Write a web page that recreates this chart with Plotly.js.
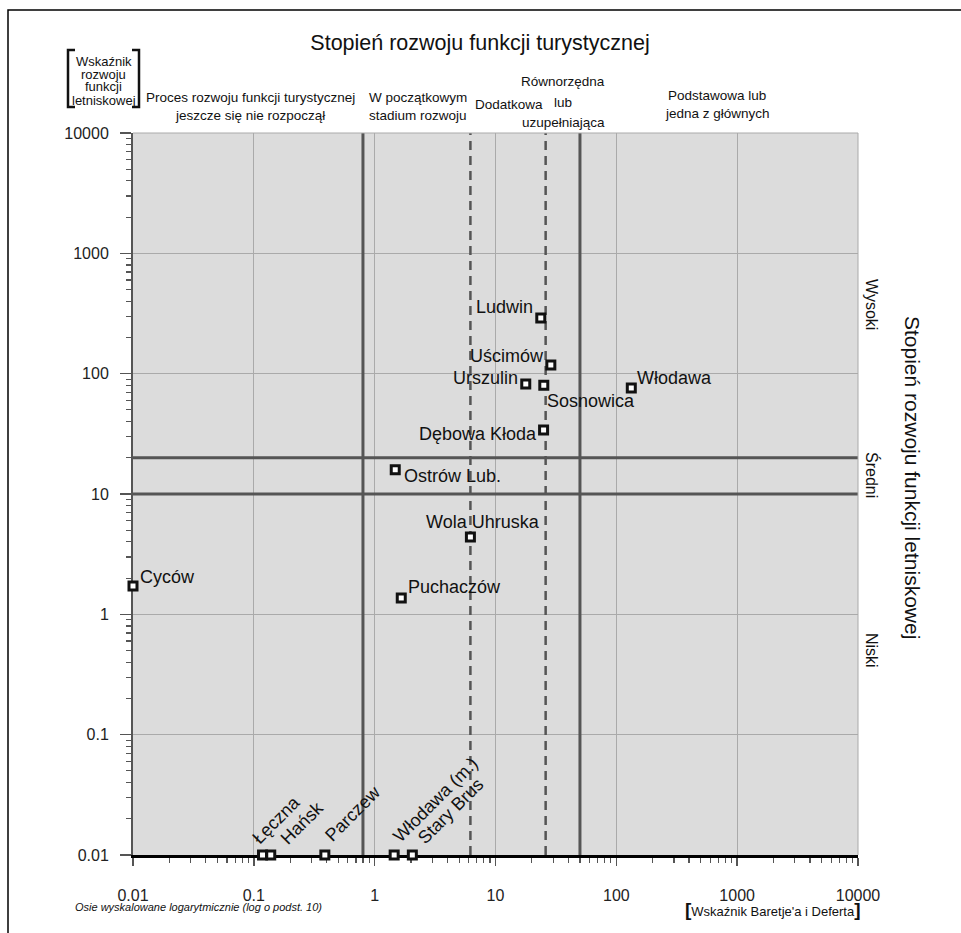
<!DOCTYPE html>
<html><head><meta charset="utf-8">
<script src="https://cdn.plot.ly/plotly-3.0.1.min.js"></script>
<style>body{margin:0;background:#fff}</style>
</head><body><div id="chart" style="width:961px;height:933px"></div>
<script>
// ---- data ----
const names = ["Ludwin","Uścimów","Urszulin","Sosnowica","Włodawa","Dębowa Kłoda","Ostrów Lub.","Wola Uhruska","Puchaczów","Cyców","Łęczna","Hańsk","Parczew","Włodawa (m.)","Stary Brus"];
const baretjeDefert = [23.7, 28.7, 17.8, 25.1, 133, 25, 1.48, 6.2, 1.66, 0.01, 0.118, 0.138, 0.387, 1.45, 2.05];
const letniskowy = [290, 118, 82, 80, 76, 34, 15.9, 4.4, 1.37, 1.72, 0.01, 0.01, 0.01, 0.01, 0.01];
const touristSolid = [0.8, 50];
const touristDashed = [6.2, 26];
const letniskBounds = [10, 20];
const tickVals = [0.01, 0.1, 1, 10, 100, 1000, 10000];
const tickText = ["0.01", "0.1", "1", "10", "100", "1000", "10000"];
const touristClasses = [
  ["Proces rozwoju funkcji turystycznej", "jeszcze się nie rozpoczął"],
  ["W początkowym", "stadium rozwoju"],
  ["Dodatkowa"],
  ["Równorzędna", "lub", "uzupełniająca"],
  ["Podstawowa lub", "jedna z głównych"]
];
const letniskClasses = ["Wysoki", "Średni", "Niski"];
const yTitleLines = ["Wskaźnik", "rozwoju", "funkcji", "letniskowej"];

// ---- styles / positions ----
const REG = "Liberation Sans, Arial, sans-serif";
const L = 133, R = 858, T = 133, B = 855;
const px = x => (x - L) / (R - L);
const py = y => (B - y) / (B - T);

// label placement [xanchor, yanchor, xshift, yshift, angle]
const labelPos = [
  ["right","middle",-6,11,0], ["right","middle",-5,9,0], ["right","middle",-6,6,0],
  ["left","middle",1,-16,0], ["left","middle",4,10,0], ["right","middle",-5,-4,0],
  ["left","middle",7,-6,0], ["center","middle",13,15,0], ["left","middle",5,11,0],
  ["left","middle",5,9,0],
  ["left","bottom",-17,4,-45], ["left","bottom",3,4,-45], ["left","bottom",-6,7,-45],
  ["left","bottom",-8,6,-45], ["left","bottom",-1,4,-45]
];
const classX = [250, 418, 509, 563, 717];
const classY = [[97,115],[97,115],[105],[82,102,122],[95,113]];
const letniskPos = [[872,304],[872,475],[872,650]];
const yTitlePos = [61,74,87,100];

const traces = [];
const yEnds = [tickVals[0], tickVals[tickVals.length-1]];
touristSolid.forEach(v => traces.push({x:[v,v], y:yEnds, mode:"lines", line:{color:"#555", width:3}, hoverinfo:"skip", showlegend:false}));
touristDashed.forEach(v => traces.push({x:[v,v], y:yEnds, mode:"lines", line:{color:"#555", width:2.5, dash:"9px,6px"}, hoverinfo:"skip", showlegend:false}));
letniskBounds.forEach(v => traces.push({x:yEnds, y:[v,v], mode:"lines", line:{color:"#555", width:3}, hoverinfo:"skip", showlegend:false}));
traces.push({x:baretjeDefert, y:letniskowy, text:names, mode:"markers", cliponaxis:false,
  marker:{symbol:"square", size:8, color:"#fff", line:{color:"#111", width:3}}, showlegend:false});

const annotations = [];
names.forEach((n,i) => {
  const p = labelPos[i];
  annotations.push({x:Math.log10(baretjeDefert[i]), y:Math.log10(letniskowy[i]), xref:"x", yref:"y",
    text:n, showarrow:false, xanchor:p[0], yanchor:p[1], xshift:p[2], yshift:p[3], textangle:p[4],
    font:{family:REG, size:18, color:"#111"}});
});
touristClasses.forEach((lines,i) => lines.forEach((t,j) => annotations.push({x:px(classX[i]), y:py(classY[i][j]), xref:"paper", yref:"paper",
  text:t, showarrow:false, xanchor:"center", yanchor:"middle", font:{family:REG, size:13.5, color:"#111"}})));
letniskClasses.forEach((t,i) => annotations.push({x:px(letniskPos[i][0]), y:py(letniskPos[i][1]), xref:"paper", yref:"paper",
  text:t, showarrow:false, xanchor:"center", yanchor:"middle", textangle:90, font:{family:REG, size:16, color:"#111"}}));
yTitleLines.forEach((t,i) => annotations.push({x:px(103.5), y:py(yTitlePos[i]), xref:"paper", yref:"paper",
  text:t, showarrow:false, xanchor:"center", yanchor:"middle", font:{family:REG, size:13, color:"#111"}}));
annotations.push({x:px(913), y:py(477), xref:"paper", yref:"paper", text:"Stopień rozwoju funkcji letniskowej",
  showarrow:false, xanchor:"center", yanchor:"middle", textangle:90, font:{family:REG, size:21, color:"#111"}});
annotations.push({x:px(73), y:py(907), xref:"paper", yref:"paper", text:"<i>Osie wyskalowane logarytmicznie (log o podst. 10)</i>",
  showarrow:false, xanchor:"left", yanchor:"middle", font:{family:REG, size:11, color:"#111"}});
annotations.push({x:px(773), y:py(909), xref:"paper", yref:"paper",
  text:"<b><span style='font-size:19px'>[</span></b>Wskaźnik Baretje'a i Deferta<b><span style='font-size:19px'>]</span></b>",
  showarrow:false, xanchor:"center", yanchor:"middle", font:{family:REG, size:13, color:"#111"}});

const shapes = [
  {type:"rect", xref:"paper", yref:"paper", x0:px(8), x1:px(970), y0:py(945), y1:py(10), line:{color:"#000", width:1.5}},
  {type:"line", xref:"paper", yref:"paper", x0:0, x1:1, y0:1, y1:1, line:{color:"#aaa", width:1}},
  {type:"line", xref:"paper", yref:"paper", x0:1, x1:1, y0:0, y1:1, line:{color:"#aaa", width:1}},
  {type:"path", xref:"paper", yref:"paper", path:`M${px(75)},${py(50)} L${px(68)},${py(50)} L${px(68)},${py(107)} L${px(75)},${py(107)}`, line:{color:"#111", width:2.5}},
  {type:"path", xref:"paper", yref:"paper", path:`M${px(132)},${py(50)} L${px(139)},${py(50)} L${px(139)},${py(107)} L${px(132)},${py(107)}`, line:{color:"#111", width:2.5}}
];

const axisCommon = {type:"log", range:[-2,4], tickvals:tickVals, ticktext:tickText, ticks:"outside",
  tickcolor:"#555", tickwidth:1.5, showgrid:true, gridcolor:"#aaa", gridwidth:1, zeroline:false,
  tickfont:{family:REG, size:16, color:"#222"}, layer:"below traces", fixedrange:true,
  minor:{ticks:"outside", ticklen:5, tickcolor:"#555", tickwidth:1.2, dtick:"D1", showgrid:false}};

const layout = {
  width:961, height:933, paper_bgcolor:"#fff", plot_bgcolor:"#dcdcdc",
  margin:{l:L, r:961-R, t:T, b:933-B},
  title:{text:"Stopień rozwoju funkcji turystycznej", xref:"container", x:480/961, xanchor:"center", yref:"container", y:1-42/933, yanchor:"middle", font:{family:REG, size:21.5, color:"#111"}},
  xaxis:Object.assign({}, axisCommon, {ticklen:8, showline:true, linecolor:"#000", linewidth:2.5, ticklabelstandoff:16}),
  yaxis:Object.assign({}, axisCommon, {ticklen:11, showline:true, linecolor:"#555", linewidth:2, ticklabelstandoff:8}),
  annotations:annotations, shapes:shapes, showlegend:false
};
Plotly.newPlot("chart", traces, layout, {displayModeBar:false, staticPlot:true});
</script></body></html>
